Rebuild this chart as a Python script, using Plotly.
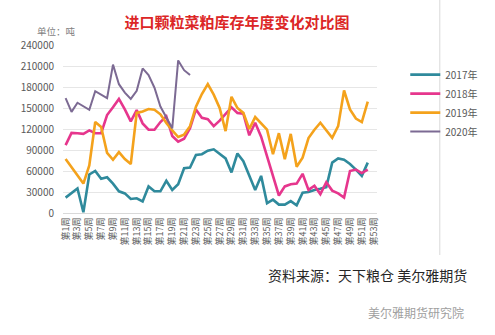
import plotly.graph_objects as go

weeks = [f"第{i}周" for i in range(1, 54)]
tick_weeks = [f"第{i}周" for i in range(1, 54, 2)]

y2017 = [22000, 29000, 35000, 1000, 55000, 60000, 49000, 51000, 42000, 31000,
         28000, 20000, 21000, 16500, 38000, 31000, 31000, 46000, 33000, 41000,
         64000, 65000, 83000, 84000, 89000, 91000, 84000, 78000, 58000, 85000,
         74000, 52000, 33000, 53000, 14000, 19000, 12000, 12000, 17000, 11000,
         29000, 30000, 33000, 34500, 37000, 72000, 78000, 76000, 70000, 62000,
         53000, 72000]
y2018 = [97000, 114500, 114000, 113000, 118000, 114000, 114000, 140000, 151000, 163000,
         148000, 131000, 147000, 128000, 119000, 119000, 130000, 138000, 110000, 102000,
         106000, 121000, 148000, 136000, 134000, 124000, 132000, 141000, 151000, 143000,
         142000, 111000, 129000, 109000, 80000, 52000, 25000, 38000, 41000, 42000,
         56000, 33000, 39000, 27000, 44000, 32000, 28000, 22000, 60000, 62000,
         57000, 62000]
y2019 = [77000, 65000, 53000, 42000, 68000, 130000, 123000, 86000, 76000, 87000,
         77000, 70000, 143000, 145000, 148500, 147500, 141000, 128500, 118000, 108500,
         112000, 124000, 152000, 170000, 184000, 169000, 150000, 117000, 166000, 150000,
         143000, 120000, 137000, 128000, 119000, 84000, 114000, 77000, 113000, 66000,
         79000, 107000, 119000, 129000, 119000, 107500, 124000, 175000, 148000, 135000,
         130000, 159000]
y2020 = [164000, 144500, 157500, 152000, 147500, 174000, 169000, 164000, 212000, 184000,
         172000, 163000, 174500, 206500, 197000, 179000, 152000, 136000, 121000, 218000,
         204000, 197000]

series = [
    ("2017年", y2017, "#2F8A9C", 2.6),
    ("2018年", y2018, "#E6368D", 2.6),
    ("2019年", y2019, "#F4A21C", 2.6),
    ("2020年", y2020, "#7C6A93", 2.0),
]

fig = go.Figure()
for i, (name, vals, color, w) in enumerate(series):
    fig.add_trace(go.Scatter(
        x=weeks[:len(vals)], y=vals, mode="lines", name=name,
        legendgroup=f"g{i}",
        line=dict(color=color, width=w),
    ))

font_family = "Noto Sans CJK SC, Microsoft YaHei, sans-serif"

fig.update_layout(
    width=495, height=335,
    margin=dict(l=63, r=107, t=45, b=122),
    paper_bgcolor="white", plot_bgcolor="white",
    font=dict(family=font_family, color="#595959", size=10),
    title=dict(text="<b>进口颗粒菜粕库存年度变化对比图</b>",
               x=237/495, y=1-23/335, xref="container", yref="container",
               xanchor="center", yanchor="middle",
               font=dict(size=15, color="#DC2626", family=font_family)),
    showlegend=True,
    legend=dict(x=1.09, y=0.91, xanchor="left", yanchor="top",
                font=dict(size=10, color="#595959"),
                traceorder="grouped", tracegroupgap=0,
                itemwidth=30,
                bgcolor="rgba(0,0,0,0)"),
    xaxis=dict(type="category", categoryarray=weeks, categoryorder="array",
               range=[-0.44, 52.56], tickmode="array", tickvals=tick_weeks,
               tickangle=-90, tickfont=dict(size=9, color="#595959"),
               showgrid=False, showline=True, linecolor="#D9D9D9", linewidth=1,
               ticks="", zeroline=False),
    yaxis=dict(range=[0, 240000], dtick=30000, tickformat="d",
               gridcolor="#E6E6E6", gridwidth=1, showline=False, zeroline=False,
               tickfont=dict(size=10, color="#595959"), ticklabelstandoff=8),
)

fig.add_annotation(text="单位：吨", xref="paper", yref="paper",
                   x=(35-63)/325, y=1+(45-31)/168, xanchor="left", yanchor="middle",
                   showarrow=False, borderpad=0,
                   font=dict(size=9.5, color="#7F7F7F"))
fig.add_annotation(text="资料来源：天下粮仓 美尔雅期货", xref="paper", yref="paper",
                   x=(483-63)/325, y=(213-275)/168, xanchor="right", yanchor="middle",
                   showarrow=False, font=dict(size=14, color="#262626"))
fig.add_annotation(text="美尔雅期货研究院", xref="paper", yref="paper",
                   x=(480-63)/325, y=(213-312)/168, xanchor="right", yanchor="middle",
                   showarrow=False, font=dict(size=12, color="#A0A0A0"))
fig.add_shape(type="line", xref="paper", yref="paper",
              x0=(453-63)/325, x1=(453-63)/325, y0=(213-255)/168, y1=1+45/168,
              line=dict(color="#D9D9D9", width=1))

fig.write_html("out.html")
